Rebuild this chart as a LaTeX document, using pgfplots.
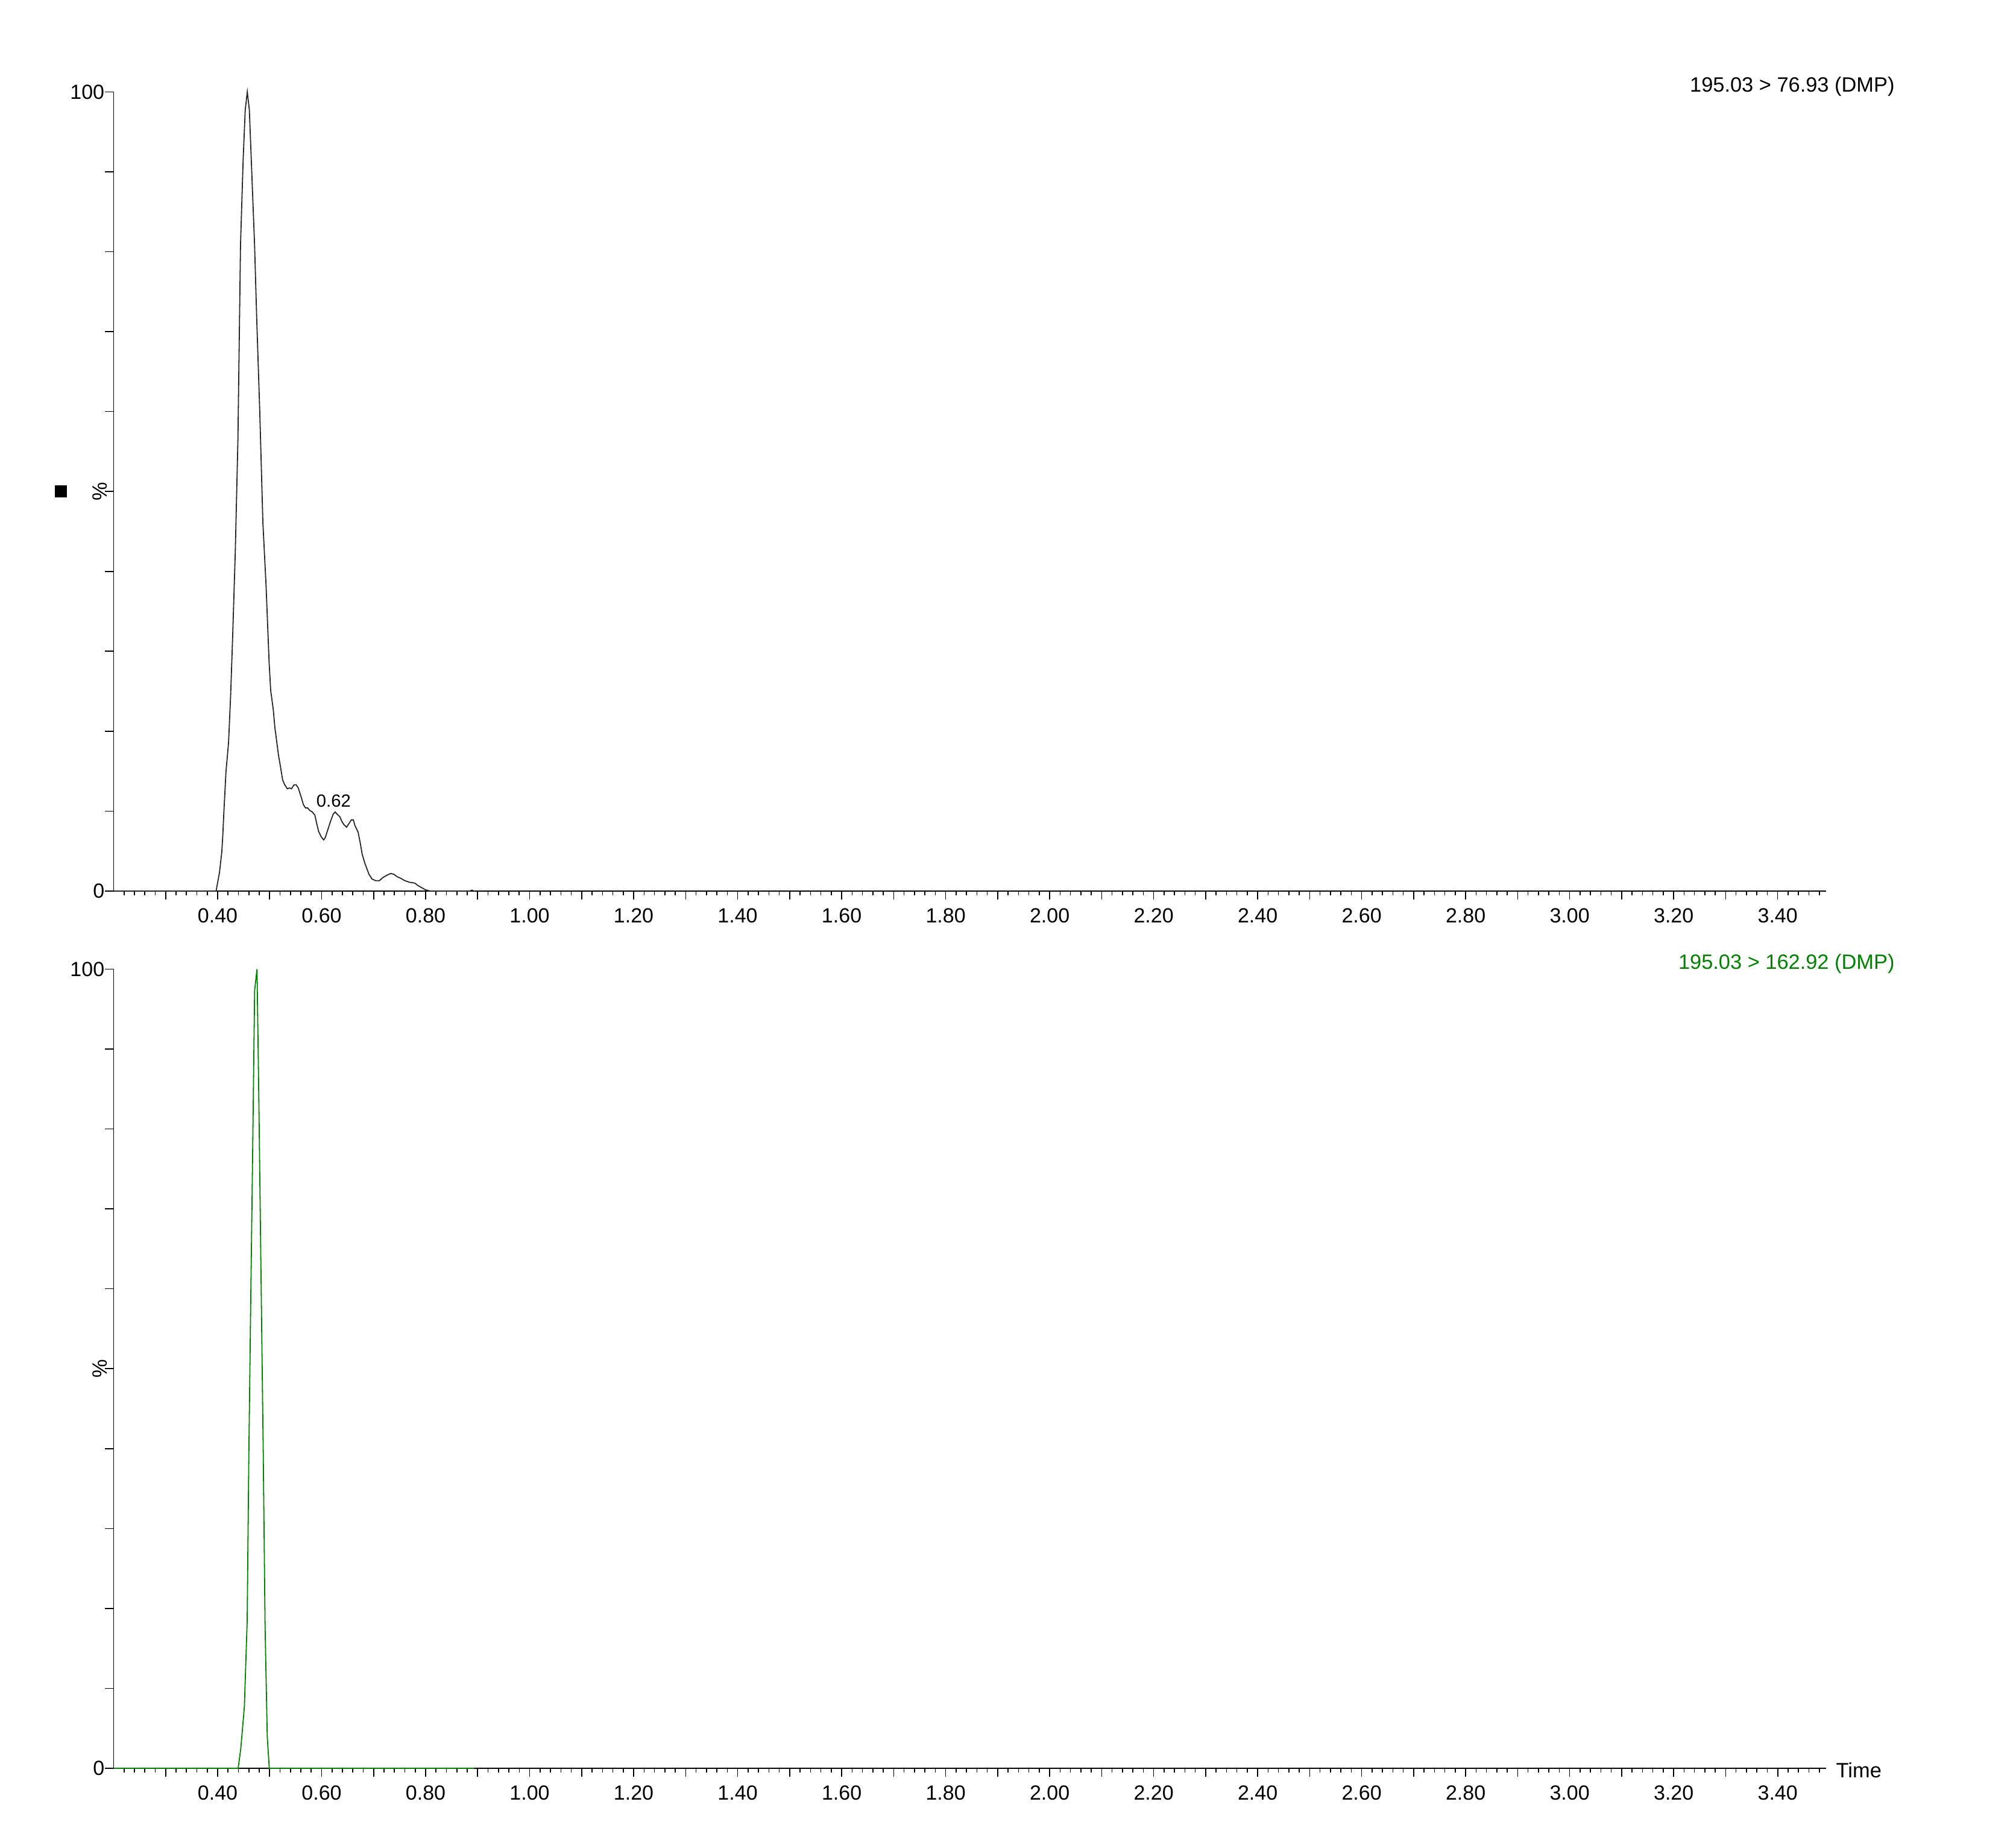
\documentclass[border=0pt]{standalone}
\usepackage{fontspec}
\setmainfont{Liberation Sans}
\usepackage{pgfplots}
\pgfplotsset{compat=1.18}
\definecolor{trgreen}{RGB}{0,128,0}
\newcommand{\lab}{\fontsize{8.6}{10}\selectfont}
\newcommand{\tlab}{\fontsize{8.5}{10}\selectfont}
\pgfplotsset{chrom/.style={
  scale only axis, width=710.1pt, height=331.4pt,
  xmin=0.2, xmax=3.493, ymin=0, ymax=100,
  axis lines*=left, axis line style={-, line width=0.45pt, black},
  tick align=outside, major tick length=3.6pt, minor tick length=1.75pt,
  tick style={line width=0.4pt, black},
  xtick={0.4,0.6,...,3.41},
  minor xtick={0.22,0.24,...,3.485},
  extra x ticks={0.3,0.5,...,3.31},
  extra x tick labels={},
  extra x tick style={grid=none},
  ytick={0,10,...,100},
  yticklabels={0,,,,,,,,,,100},
  /pgf/number format/assume math mode=true,
  x tick label style={/pgf/number format/fixed, /pgf/number format/fixed zerofill, /pgf/number format/precision=2},
  y tick label style={xshift=3.3pt},
  tick label style={font=\tlab},
  clip=false,
}}
\pgfplotstableread{
x y
0.200 0
0.397 0
0.4035 2.3
0.408 4.9
0.410 7.1
0.412 9.9
0.416 14.9
0.421 18.6
0.425 24.5
0.429 32.1
0.434 42.6
0.439 56.5
0.444 80.9
0.449 91.4
0.453 97.7
0.457 100
0.461 97.7
0.466 89.3
0.471 80.9
0.475 71.9
0.481 60.0
0.487 46.1
0.493 38.4
0.499 28.6
0.502 25.1
0.507 22.7
0.510 20.5
0.517 17.0
0.521 15.5
0.525 13.9
0.529 13.3
0.534 12.8
0.538 12.9
0.542 12.8
0.547 13.3
0.551 13.3
0.555 12.9
0.560 11.9
0.565 10.8
0.569 10.4
0.573 10.4
0.577 10.1
0.582 9.9
0.587 9.5
0.590 8.6
0.594 7.5
0.599 6.8
0.604 6.4
0.607 6.7
0.611 7.5
0.617 8.7
0.622 9.6
0.626 9.9
0.630 9.6
0.635 9.3
0.639 8.7
0.643 8.3
0.648 8.0
0.652 8.4
0.657 8.9
0.661 8.9
0.664 8.2
0.670 7.4
0.674 6.1
0.678 4.6
0.683 3.5
0.691 2.1
0.697 1.5
0.704 1.3
0.711 1.3
0.718 1.7
0.726 2.0
0.733 2.2
0.739 2.1
0.745 1.8
0.752 1.6
0.760 1.3
0.769 1.1
0.779 1.0
0.785 0.7
0.793 0.4
0.800 0.15
0.809 0
0.885 0
0.889 0.12
0.893 0
0.894 0
}\blacktrace
\pgfplotstableread{
x y
0.200 0
0.4394 0
0.4444 2.4
0.4514 7.7
0.4568 18.5
0.4599 38.7
0.4638 59.3
0.4676 78.5
0.4711 97.3
0.4757 100
0.4792 83.8
0.4835 61.3
0.4877 39.4
0.4912 17.8
0.4954 4.0
0.4993 0
0.8927 0
}\greentrace
\begin{document}
\begin{tikzpicture}
\useasboundingbox (0,0) rectangle (836pt,760.5pt);
\begin{axis}[chrom, at={(47.125pt,391pt)}, anchor=south west]
\addplot[black!85, line width=0.45pt] table[x=x,y=y] {\blacktrace};
\node[anchor=base, font=\fontsize{7.3}{8}\selectfont, inner sep=0pt] at (axis cs:0.623,10.5) {0.62};
\node[anchor=base east, font=\lab, inner sep=0pt] at (rel axis cs:1.0403,1) {195.03 > 76.93 (DMP)};
\node[rotate=90, font=\lab, inner sep=0pt] at ([xshift=-5.75pt]rel axis cs:0,0.5) {\%};
\fill ([xshift=-24.25pt,yshift=-2.5pt]rel axis cs:0,0.5) rectangle +(5pt,5pt);
\end{axis}
\begin{axis}[chrom, at={(47.125pt,27.25pt)}, anchor=south west]
\addplot[trgreen, line width=0.45pt] table[x=x,y=y] {\greentrace};
\node[anchor=base east, font=\lab, text=trgreen, inner sep=0pt] at (rel axis cs:1.0403,1) {195.03 > 162.92 (DMP)};
\node[rotate=90, font=\lab, inner sep=0pt] at ([xshift=-5.75pt]rel axis cs:0,0.5) {\%};
\node[anchor=base west, font=\lab, inner sep=0pt] at ([xshift=4pt,yshift=-4pt]rel axis cs:1,0) {Time};
\end{axis}
\end{tikzpicture}
\end{document}
